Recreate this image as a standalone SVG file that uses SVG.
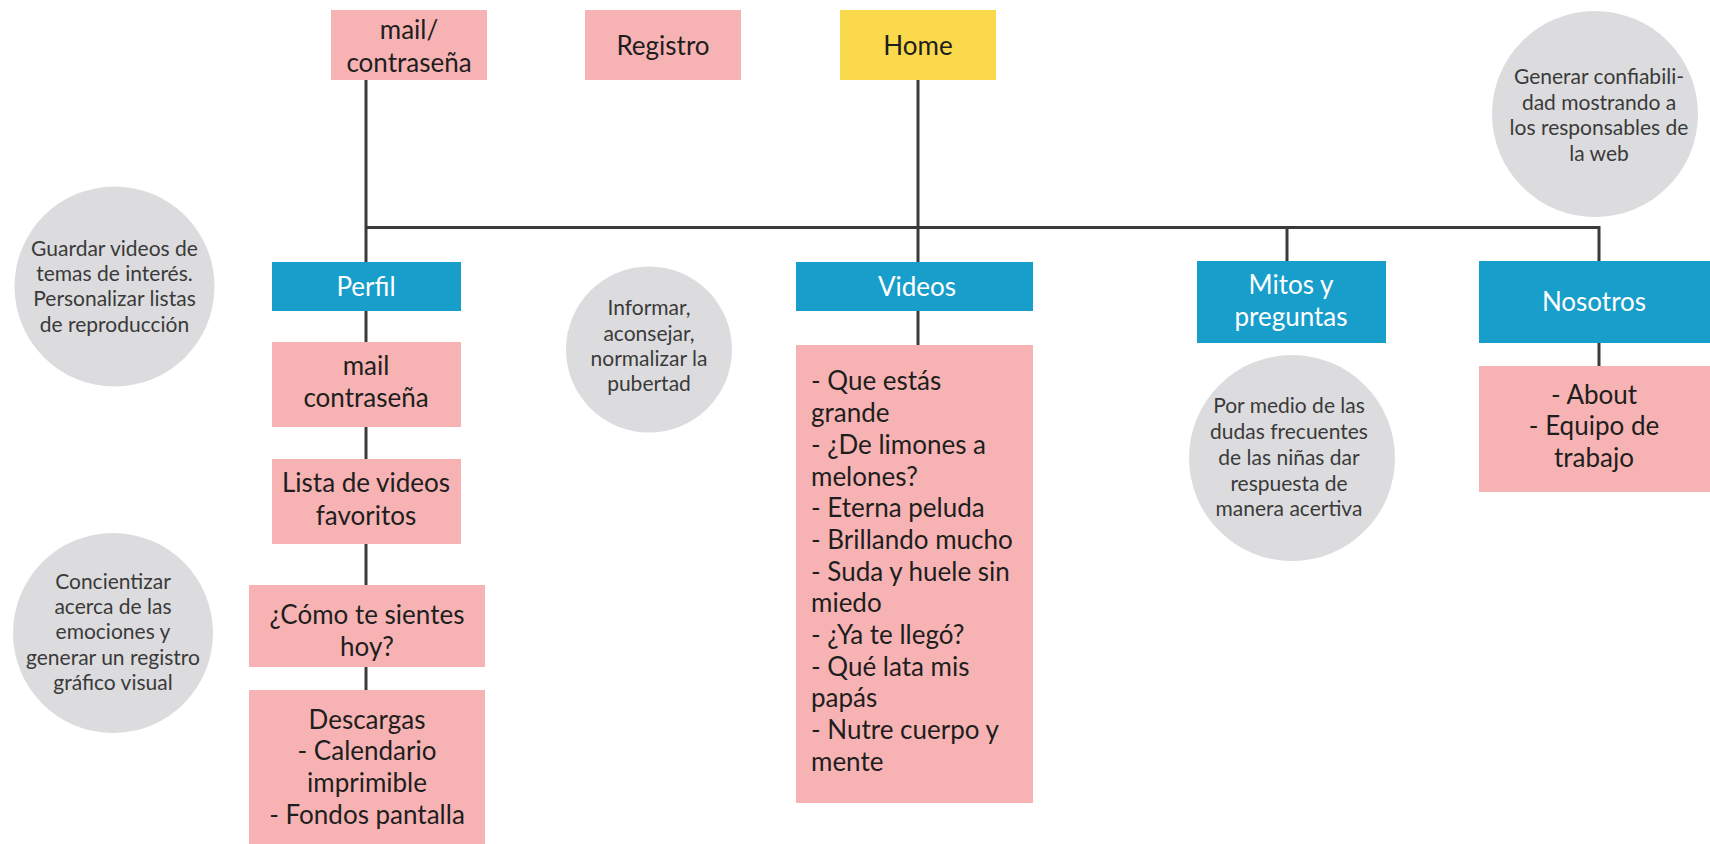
<svg xmlns="http://www.w3.org/2000/svg" width="1710" height="844" viewBox="0 0 1710 844">
<style>
.pink{fill:#f7b3b3}
.yellow{fill:#fbd94c}
.blue{fill:#179ecb}
.circ{fill:#dcdcde}
.t{font-family:Lato,"Open Sans","Liberation Sans",sans-serif;font-size:26px;fill:#1e1e1e;text-anchor:middle}
.tl{font-family:Lato,"Open Sans","Liberation Sans",sans-serif;font-size:26px;fill:#1e1e1e}
.tw{font-family:Lato,"Open Sans","Liberation Sans",sans-serif;font-size:26px;fill:#ffffff;text-anchor:middle}
.tc{font-family:Lato,"Open Sans","Liberation Sans",sans-serif;font-size:21px;fill:#3a3a3a;text-anchor:middle}
.ln{stroke:#3a3a3a;stroke-width:3;fill:none}
</style>
<rect width="1710" height="844" fill="#ffffff"/>
<g id="connectors">
<path class="ln" d="M366 80 V262"/>
<path class="ln" d="M366 227.5 H1599 V261"/>
<path class="ln" d="M918 80 V262"/>
<path class="ln" d="M1287 227.5 V261"/>
<path class="ln" d="M918 311 V345"/>
<path class="ln" d="M366 311 V342"/>
<path class="ln" d="M366 427 V459"/>
<path class="ln" d="M366 544 V585"/>
<path class="ln" d="M366 667 V690"/>
<path class="ln" d="M1599 343 V366"/>
</g>
<g id="mail-contrasena-top">
<rect class="pink" x="331" y="10" width="156" height="70"/>
<text class="t" x="409" y="39">mail/</text>
<text class="t" x="409" y="72">contraseña</text>
</g>
<g id="registro">
<rect class="pink" x="585" y="10" width="156" height="70"/>
<text class="t" x="663" y="55">Registro</text>
</g>
<g id="home">
<rect class="yellow" x="840" y="10" width="156" height="70"/>
<text class="t" x="918" y="55">Home</text>
</g>
<g id="generar">
<circle class="circ" cx="1595" cy="114" r="103"/>
<text class="tc" x="1599" y="84">Generar confiabili-</text>
<text class="tc" x="1599" y="110">dad mostrando a</text>
<text class="tc" x="1599" y="135">los responsables de</text>
<text class="tc" x="1599" y="161">la web</text>
</g>
<g id="guardar">
<circle class="circ" cx="114.5" cy="286.5" r="100"/>
<text class="tc" x="114.5" y="255.5">Guardar videos de</text>
<text class="tc" x="114.5" y="281">temas de interés.</text>
<text class="tc" x="114.5" y="306">Personalizar listas</text>
<text class="tc" x="114.5" y="332">de reproducción</text>
</g>
<g id="perfil">
<rect class="blue" x="272" y="262" width="189" height="49"/>
<text class="tw" x="366" y="296">Perfil</text>
</g>
<g id="informar">
<circle class="circ" cx="649" cy="349.5" r="83"/>
<text class="tc" x="649" y="315">Informar,</text>
<text class="tc" x="649" y="340.5">aconsejar,</text>
<text class="tc" x="649" y="366">normalizar la</text>
<text class="tc" x="649" y="391">pubertad</text>
</g>
<g id="videos">
<rect class="blue" x="796" y="262" width="237" height="49"/>
<text class="tw" x="917" y="296">Videos</text>
</g>
<g id="mitos">
<rect class="blue" x="1197" y="261" width="189" height="82"/>
<text class="tw" x="1291" y="294">Mitos y</text>
<text class="tw" x="1291" y="326">preguntas</text>
</g>
<g id="nosotros">
<rect class="blue" x="1479" y="261" width="231" height="82"/>
<text class="tw" x="1594" y="311">Nosotros</text>
</g>
<g id="mail-contrasena">
<rect class="pink" x="272" y="342" width="189" height="85"/>
<text class="t" x="366" y="375">mail</text>
<text class="t" x="366" y="407">contraseña</text>
</g>
<g id="videos-lista">
<rect class="pink" x="796" y="345" width="237" height="458"/>
<text class="tl" x="811" y="390">- Que estás</text>
<text class="tl" x="811" y="422">grande</text>
<text class="tl" x="811" y="454">- ¿De limones a</text>
<text class="tl" x="811" y="486">melones?</text>
<text class="tl" x="811" y="517">- Eterna peluda</text>
<text class="tl" x="811" y="549">- Brillando mucho</text>
<text class="tl" x="811" y="581">- Suda y huele sin</text>
<text class="tl" x="811" y="612">miedo</text>
<text class="tl" x="811" y="644">- ¿Ya te llegó?</text>
<text class="tl" x="811" y="676">- Qué lata mis</text>
<text class="tl" x="811" y="707">papás</text>
<text class="tl" x="811" y="739">- Nutre cuerpo y</text>
<text class="tl" x="811" y="771">mente</text>
</g>
<g id="about">
<rect class="pink" x="1479" y="366" width="231" height="126"/>
<text class="t" x="1594" y="404">- About</text>
<text class="t" x="1594" y="435">- Equipo de</text>
<text class="t" x="1594" y="467">trabajo</text>
</g>
<g id="por-medio">
<circle class="circ" cx="1292" cy="458" r="103"/>
<text class="tc" x="1289" y="413">Por medio de las</text>
<text class="tc" x="1289" y="439">dudas frecuentes</text>
<text class="tc" x="1289" y="465">de las niñas dar</text>
<text class="tc" x="1289" y="491">respuesta de</text>
<text class="tc" x="1289" y="516">manera acertiva</text>
</g>
<g id="lista-favoritos">
<rect class="pink" x="272" y="459" width="189" height="85"/>
<text class="t" x="366" y="492">Lista de videos</text>
<text class="t" x="366" y="525">favoritos</text>
</g>
<g id="concientizar">
<circle class="circ" cx="113" cy="633" r="100"/>
<text class="tc" x="113" y="589">Concientizar</text>
<text class="tc" x="113" y="614">acerca de las</text>
<text class="tc" x="113" y="639">emociones y</text>
<text class="tc" x="113" y="665">generar un registro</text>
<text class="tc" x="113" y="690">gráfico visual</text>
</g>
<g id="como-te-sientes">
<rect class="pink" x="249" y="585" width="236" height="82"/>
<text class="t" x="367" y="624">¿Cómo te sientes</text>
<text class="t" x="367" y="656">hoy?</text>
</g>
<g id="descargas">
<rect class="pink" x="249" y="690" width="236" height="154"/>
<text class="t" x="367" y="729">Descargas</text>
<text class="t" x="367" y="760">- Calendario</text>
<text class="t" x="367" y="792">imprimible</text>
<text class="t" x="367" y="824">- Fondos pantalla</text>
</g>
</svg>
